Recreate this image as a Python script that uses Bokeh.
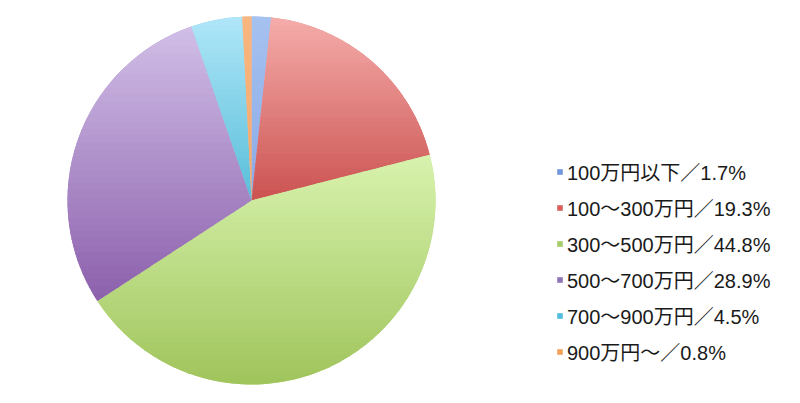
import math
from bokeh.plotting import figure
from bokeh.models import Range1d, Legend, LegendItem, ColumnDataSource
from bokeh.embed import file_html
from bokeh.resources import INLINE

categories = ["100万円以下", "100〜300万円", "300〜500万円", "500〜700万円", "700〜900万円", "900万円〜"]
shares = [1.7, 19.3, 44.8, 28.9, 4.5, 0.8]
top_colors = ["#a6c2f0", "#f5adab", "#d8f3ae", "#d1bfe7", "#b0e6f8", "#f9b680"]
bottom_colors = ["#8aaae6", "#cb5351", "#a0c45c", "#8c60ac", "#58bed9", "#f4a86c"]
legend_colors = ["#6f99d8", "#d9605e", "#a5cc6a", "#9074b8", "#52bedf", "#f6a35a"]

W, H = 784, 387
cx, cy, R = 251, 187, 184


def hex2rgb(h):
    return tuple(int(h[i:i + 2], 16) for i in (1, 3, 5))


def mix(a, b, t):
    ca, cb = hex2rgb(a), hex2rgb(b)
    return "#%02x%02x%02x" % tuple(round(ca[k] + (cb[k] - ca[k]) * t) for k in range(3))


def clip(poly, y0, keep_above):
    out = []
    n = len(poly)
    for i in range(n):
        x1, y1 = poly[i]
        x2, y2 = poly[(i + 1) % n]
        in1 = (y1 >= y0) if keep_above else (y1 <= y0)
        in2 = (y2 >= y0) if keep_above else (y2 <= y0)
        if in1:
            out.append((x1, y1))
        if in1 != in2 and y2 != y1:
            t = (y0 - y1) / (y2 - y1)
            out.append((x1 + (x2 - x1) * t, y0))
    return out


total = sum(shares)
starts, ends = [], []
acc = 0.0
for s in shares:
    starts.append(math.pi / 2 - 2 * math.pi * acc / total)
    acc += s
    ends.append(math.pi / 2 - 2 * math.pi * acc / total)

labels = [f"{c}／{s}%" for c, s in zip(categories, shares)]
mid_colors = [mix(a, b, 0.5) for a, b in zip(top_colors, bottom_colors)]
src = ColumnDataSource(dict(start=starts, end=ends, color=mid_colors, lcolor=legend_colors, label=labels,
                            x=[cx] * len(shares), y=[cy] * len(shares)))

p = figure(width=W, height=H, x_range=Range1d(0, W), y_range=Range1d(0, H),
           toolbar_location=None, output_backend="svg", min_border=0)
p.axis.visible = False
p.grid.visible = False
p.outline_line_color = None
p.background_fill_color = "white"

# pie slices
r = p.wedge(x="x", y="y", radius=R, start_angle="start", end_angle="end", direction="clock",
            fill_color="color", line_color=None, source=src)

# vertical shading inside each slice (light at the slice's top, darker at its bottom)
xs, ys, cs = [], [], []
nb = 40
for i in range(len(shares)):
    a0, a1 = starts[i], ends[i]
    steps = max(2, int(abs(a0 - a1) / 0.02))
    poly = [(cx, cy)] + [(cx + R * math.cos(a0 + (a1 - a0) * k / steps),
                          cy + R * math.sin(a0 + (a1 - a0) * k / steps)) for k in range(steps + 1)]
    ymax = max(pt[1] for pt in poly)
    ymin = min(pt[1] for pt in poly)
    h = (ymax - ymin) / nb
    for j in range(nb):
        yt = ymax - j * h + 0.6
        yb = ymax - (j + 1) * h - 0.6
        band = clip(clip(poly, yt, False), yb, True)
        if len(band) < 3:
            continue
        xs.append([pt[0] for pt in band])
        ys.append([pt[1] for pt in band])
        cs.append(mix(top_colors[i], bottom_colors[i], (j + 0.5) / nb))
p.patches(xs, ys, fill_color=cs, line_color=None)

# legend swatches
r2 = p.quad(left="x", right="x", top="y", bottom="y", fill_color="lcolor", line_color=None, source=src)

items = [LegendItem(label=labels[i], renderers=[r2], index=i) for i in range(len(labels))]
legend = Legend(items=items, location=(556, 21), padding=0, margin=0, spacing=6,
                glyph_width=7, glyph_height=7, label_height=30, label_standoff=4,
                label_text_font="'Liberation Sans', 'Noto Sans CJK JP'", label_text_font_size="20px",
                label_text_color="#1a1a1a", border_line_color=None, background_fill_alpha=0)
p.add_layout(legend)

open("out.html", "w").write(file_html(p, INLINE))
